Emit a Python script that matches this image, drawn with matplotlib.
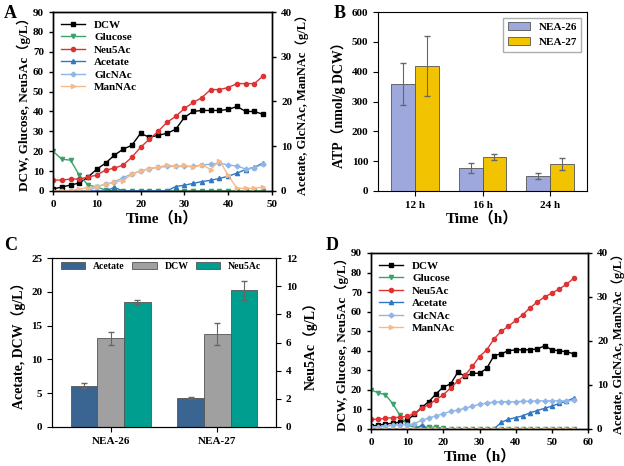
import matplotlib
matplotlib.use('Agg')
import matplotlib.pyplot as plt
import numpy as np

plt.rcParams['font.family'] = ['Liberation Serif', 'Noto Sans CJK SC']
plt.rcParams['font.weight'] = 'bold'
plt.rcParams['font.size'] = 8

tA = list(range(0, 49, 2))
A_dcw = [1,2,3,4,7,11,14,18,21,23,29,27,28,29,31,37,40,40.5,40.5,40.5,41,42.5,40,40,38.5]
A_glc = [20,16,15.5,8,3,2,0.5,0,0,0,0,0,0,0,0,0,0,0,0,0,0,0,0,0,0]
A_neu = [5.5,5.5,6,6,7,8,10.5,11.5,13,17,22,26,30,34.5,37.5,41.5,44.5,47,51,51,52,54,54,54,58]
A_ace = [0,0,0,0,0,0,0,0.8,0,0,0,0,0,0,1,1.3,1.7,2.1,2.4,2.8,3.3,4,4.8,5.3,6.3]
A_glcnac = [0,0,0,0,0,1,1.5,2,3,3.8,4.5,5,5.3,5.5,5.5,5.5,5.5,5.8,6,6.2,5.8,5.6,4.9,5.2,6]
A_mannac = [0,0,0,0.5,0.7,1,1.5,2,2.3,3.8,4.5,5,5.3,5.8,5.5,5.7,5.3,5.9,4.8,6.8,3.5,0.6,0.6,0.6,0.9]

tD = list(range(0, 57, 2))
D_dcw = [1.5,2,2.5,3,3.5,4.5,7.5,11,14,18,21.5,23,29,27,28.5,28.5,31,37.5,38.5,40,40.5,40.5,40.5,41,42.5,40.5,40,39.5,38.5]
D_glc = [20,18.5,17.5,13,7,2,1,1,1,1,0.5,0,0,0,0,0,0,0,0,0,0,0,0,0,0,0,0,0,0]
D_neu = [5,5,5.5,5.8,6,6.5,8,10.5,12.5,15,17.5,21,24.5,27.5,32,37,40.5,46,50,52.5,55.5,58.5,62,65,67.5,69.5,71.5,74,77]
D_ace = [0,0,0,0,0,0,0,0.8,0,0,0,0,0,0,0,0,0,0,1.5,2.2,2.6,3,3.7,4.2,4.7,5.2,5.8,6.3,7]
D_glcnac = [0.5,0.5,0.7,0.8,1,1,1.2,2,2.5,3,3.5,4,4.3,4.7,5.2,5.6,5.9,6.1,6.2,6.2,6.2,6.3,6.3,6.4,6.4,6.4,6.4,6.4,6.5]
D_mannac = [0.1]*29

B_groups = ['12 h', '16 h', '24 h']
B_nea26 = [358, 77, 50]; B_nea26_err = [70, 18, 10]
B_nea27 = [420, 113, 90]; B_nea27_err = [100, 10, 20]

C_groups = ['NEA-26', 'NEA-27']
C_ace = [6.1, 4.3]; C_ace_err = [0.4, 0.1]
C_dcw = [13.1, 13.8]; C_dcw_err = [1.0, 1.6]
C_neu = [8.9, 9.7]; C_neu_err = [0.15, 0.7]

fig = plt.figure(figsize=(6.24, 4.66), dpi=100)
W, H = 624, 466
def ax_at(x0, y0, x1, y1):
    return fig.add_axes([x0/W, 1-y1/H, (x1-x0)/W, (y1-y0)/H])

def time_panel(ax, t, dcw, glc, neu, ace, glcnac, mannac, xmax, xstep):
    ax2 = ax.twinx()
    ms = 3
    l1, = ax.plot(t, dcw, '-s', color='black', ms=ms, lw=1, label='DCW')
    l2, = ax.plot(t, glc, '-v', color='#3aa36a', ms=ms, lw=1, label='Glucose')
    l3, = ax.plot(t, neu, '-o', color='#dd3333', ms=ms, lw=1, label='Neu5Ac')
    l4, = ax2.plot(t, ace, '-^', color='#2f78c4', ms=ms, lw=1, label='Acetate')
    l5, = ax2.plot(t, glcnac, '-D', color='#8fb6e6', ms=ms-0.5, lw=1, label='GlcNAc')
    l6, = ax2.plot(t, mannac, '->', color='#f5b98a', ms=ms, lw=1, label='ManNAc')
    ax.set_xlim(0, xmax); ax.set_ylim(0, 90); ax2.set_ylim(0, 40)
    ax.set_xticks(range(0, xmax+1, xstep))
    ax.set_yticks(range(0, 91, 10)); ax2.set_yticks(range(0, 41, 10))
    ax.set_xlabel('Time（h）', fontsize=11, fontweight='bold', labelpad=1)
    ax.set_ylabel('DCW, Glucose, Neu5Ac（g/L）', fontsize=9.5, fontweight='bold', labelpad=1)
    ax2.set_ylabel('Acetate, GlcNAc, ManNAc（g/L）', fontsize=9, fontweight='bold', labelpad=2)
    ax.legend(handles=[l1,l2,l3,l4,l5,l6], loc='upper left', frameon=False, fontsize=8,
              handlelength=2.2, labelspacing=0.25, borderaxespad=0.3)
    for a in (ax, ax2):
        a.tick_params(labelsize=8, length=3, width=1)
        for s in a.spines.values(): s.set_linewidth(1)

axA = ax_at(53, 12, 272, 191)
time_panel(axA, tA, A_dcw, A_glc, A_neu, A_ace, A_glcnac, A_mannac, 50, 10)
axD = ax_at(371, 253, 588, 429)
time_panel(axD, tD, D_dcw, D_glc, D_neu, D_ace, D_glcnac, D_mannac, 60, 10)

axB = ax_at(378, 12, 587, 191)
x = np.arange(len(B_groups)); w = 0.35
kw = dict(edgecolor='#555555', linewidth=0.6, capsize=2, error_kw=dict(elinewidth=0.8, ecolor='#666666'))
axB.bar(x - w/2, B_nea26, w, yerr=B_nea26_err, color='#9ea8dc', label='NEA-26', **kw)
axB.bar(x + w/2, B_nea27, w, yerr=B_nea27_err, color='#f2c300', label='NEA-27', **kw)
axB.set_xticks(x); axB.set_xticklabels(B_groups)
axB.set_xlim(-0.55, 2.55); axB.set_ylim(0, 600); axB.set_yticks(range(0, 601, 100))
axB.set_xlabel('Time（h）', fontsize=11, fontweight='bold', labelpad=1)
axB.set_ylabel('ATP（nmol/g DCW）', fontsize=10, fontweight='bold')
axB.legend(loc='upper right', fontsize=8, frameon=True, fancybox=False, edgecolor='#999999')
axB.tick_params(labelsize=8)

axC = ax_at(52, 258, 276, 427)
axC2 = axC.twinx()
x = np.arange(len(C_groups)); w = 0.25
axC.bar(x - w, C_ace, w, yerr=C_ace_err, color='#3a6592', label='Acetate', **kw)
axC.bar(x, C_dcw, w, yerr=C_dcw_err, color='#a0a0a0', label='DCW', **kw)
axC2.bar(x + w, C_neu, w, yerr=C_neu_err, color='#009e8e', label='Neu5Ac', **kw)
axC.set_xticks(x); axC.set_xticklabels(C_groups)
axC.set_xlim(-0.55, 1.55)
axC.set_ylim(0, 25); axC.set_yticks(range(0, 26, 5))
axC2.set_ylim(0, 12); axC2.set_yticks(range(0, 13, 2))
axC.set_ylabel('Acetate, DCW（g/L）', fontsize=10, fontweight='bold')
axC2.set_ylabel('Neu5Ac（g/L）', fontsize=10, fontweight='bold')
h1, lb1 = axC.get_legend_handles_labels(); h2, lb2 = axC2.get_legend_handles_labels()
axC.legend(h1+h2, lb1+lb2, loc='upper left', ncol=3, fontsize=7, frameon=False,
           bbox_to_anchor=(0, 1.03), handlelength=2.5, columnspacing=0.8)
axC.tick_params(labelsize=8); axC2.tick_params(labelsize=8)

for lab, (px, py) in {'A': (4, 14), 'B': (334, 14), 'C': (4, 246), 'D': (326, 246)}.items():
    fig.text(px/W, 1-py/H, lab, fontsize=13, fontweight='bold', va='center')

fig.savefig('out.png', dpi=100)
